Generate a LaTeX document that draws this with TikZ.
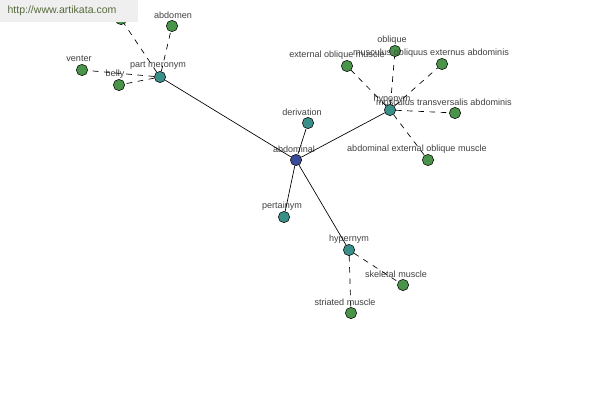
\documentclass[tikz,border=0pt]{standalone}
\usepackage{fontspec}
\setmainfont{Liberation Sans}
\definecolor{rootc}{HTML}{3B4A9A}
\definecolor{relc}{HTML}{3A8F88}
\definecolor{leafc}{HTML}{4A944A}
\definecolor{txtc}{HTML}{404040}
\definecolor{markc}{HTML}{EFEFEF}
\definecolor{marktxt}{HTML}{566A3C}
\tikzset{
  dot/.style={circle, draw=black, line width=0.4pt, inner sep=0pt, minimum size=8.5pt},
  root/.style={dot, fill=rootc},
  rel/.style={dot, fill=relc},
  leaf/.style={dot, fill=leafc},
  lbl/.style={text=txtc, font=\fontsize{6.8}{7.5}\selectfont, inner sep=0pt},
  link/.style={line width=0.5pt},
  sublink/.style={line width=0.5pt, dash pattern=on 4.2pt off 4.2pt}
}
\begin{document}
\begin{tikzpicture}[x=0.75pt,y=-0.75pt]
  \useasboundingbox (0,0) rectangle (600,400);
  \foreach \n/\x/\y/\lx/\s/\t in {abd/296/160/294/root/abdominal,
            der/308/123/302/rel/derivation, per/284/217/282/rel/pertainym,
            hyper/349/250/349/rel/hypernym, hypo/390/110/392/rel/hyponym,
            part/160/77/158/rel/part meronym,
            skel/403/285/396/leaf/skeletal muscle, stri/351/313/345/leaf/striated muscle,
            obl/395/51/392/leaf/oblique,
            moe/442/64/431/leaf/musculus obliquus externus abdominis,
            eom/347/66/337/leaf/external oblique muscle,
            mta/455/113/444/leaf/musculus transversalis abdominis,
            aeom/428/160/417/leaf/abdominal external oblique muscle,
            abdn/172/26/173/leaf/abdomen, vent/82/70/79/leaf/venter,
            bel/119/85/115/leaf/belly}
    {
      \node[\s] (\n) at (\x,\y) {};
      \node[lbl] (\n-l) at (\lx,\y-11) {\t};
    }
  \node[leaf] (hid) at (121,19) {};
  % relations from the word
  \foreach \b in {der,per,hyper,hypo,part}
    \draw[link] (abd) -- (\b);
  % words in each relation
  \foreach \a/\b in {part/abdn,part/vent,part/bel,part/hid,
            hypo/obl,hypo/moe,hypo/eom,hypo/mta,hypo/aeom,
            hyper/skel,hyper/stri}
    \draw[sublink] (\a) -- (\b);
  % watermark
  \fill[markc] (0,0) rectangle (138,22);
  \node[text=marktxt, font=\fontsize{7.9}{9}\selectfont, inner sep=0pt] (mark) at (62,11) {http://www.artikata.com};
\end{tikzpicture}
\end{document}
